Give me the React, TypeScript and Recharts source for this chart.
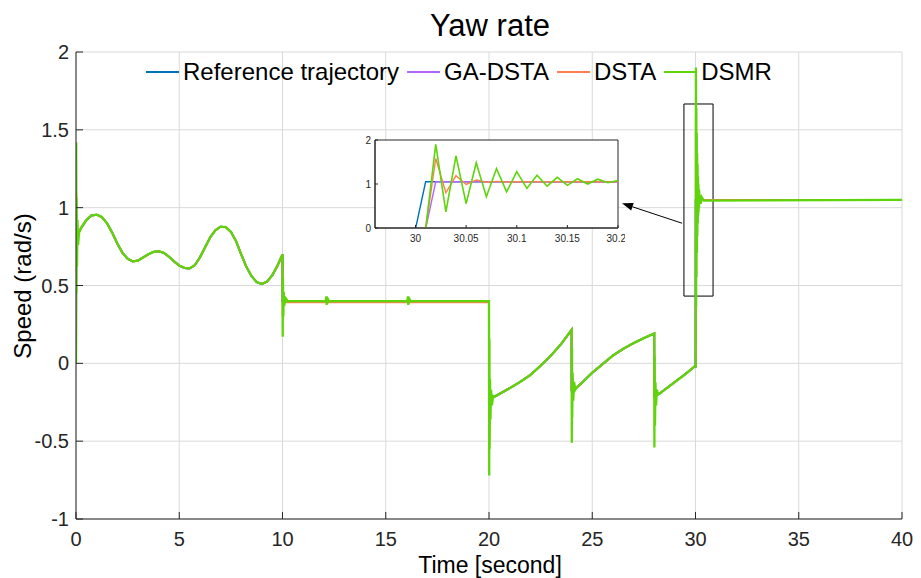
import {
  LineChart,
  Line,
  XAxis,
  YAxis,
  CartesianGrid,
  Legend,
  ReferenceArea,
  ReferenceLine,
} from "recharts";

const FONT = '"Liberation Sans", Arial, Helvetica, sans-serif';
const AXIS = "#262626";
const GRID = "#d9d9d9";

// ---- shared yaw-rate track (rad/s) ----
const waveT = [
  0, 0.25, 0.5, 0.75, 1, 1.25, 1.5, 1.75, 2, 2.25, 2.5, 2.75, 3, 3.25, 3.5,
  3.75, 4, 4.25, 4.5, 4.75, 5, 5.25, 5.5, 5.75, 6, 6.25, 6.5, 6.75, 7, 7.25,
  7.5, 7.75, 8, 8.25, 8.5, 8.75, 9, 9.25, 9.5, 9.75, 10,
];
const waveY = [
  0.81, 0.87, 0.92, 0.95, 0.955, 0.94, 0.9, 0.84, 0.77, 0.71, 0.672, 0.655,
  0.66, 0.68, 0.7, 0.716, 0.72, 0.71, 0.685, 0.655, 0.628, 0.613, 0.61, 0.63,
  0.68, 0.745, 0.81, 0.855, 0.878, 0.875, 0.845, 0.785, 0.7, 0.62, 0.56, 0.522,
  0.51, 0.525, 0.565, 0.625, 0.7,
];
const holdT = [10, 20];
const holdY = [0.4, 0.4];
const ramp1T = [20, 20.25, 20.5, 21, 21.5, 22, 22.5, 23, 23.5, 24];
const ramp1Y = [-0.225, -0.215, -0.197, -0.16, -0.12, -0.075, -0.015, 0.05, 0.125, 0.215];
const ramp2T = [24, 24.25, 24.5, 25, 25.5, 26, 26.5, 27, 27.5, 28];
const ramp2Y = [-0.17, -0.155, -0.125, -0.06, -0.005, 0.05, 0.093, 0.13, 0.162, 0.192];
const ramp3T = [28, 28.25, 28.5, 29, 29.5, 30];
const ramp3Y = [-0.21, -0.195, -0.17, -0.12, -0.07, -0.02];
const cruiseT = [30, 40];
const cruiseY = [1.05, 1.05];

// ---- step at t = 30 s, sampled every 10 ms ----
const zoomT = [
  29.96, 29.97, 29.98, 29.99, 30, 30.01, 30.02, 30.03, 30.04, 30.05, 30.06,
  30.07, 30.08, 30.09, 30.1, 30.11, 30.12, 30.13, 30.14, 30.15, 30.16, 30.17,
  30.18, 30.19, 30.2,
];
const zoomRef = [
  -0.02, -0.02, -0.02, -0.02, -0.02, 1.05, 1.05, 1.05, 1.05, 1.05, 1.05, 1.05,
  1.05, 1.05, 1.05, 1.05, 1.05, 1.05, 1.05, 1.05, 1.05, 1.05, 1.05, 1.05, 1.05,
];
const zoomGa = [
  -0.02, -0.02, -0.02, -0.02, -0.02, -0.02, 1.05, 1.05, 1.05, 1.05, 1.05, 1.05,
  1.05, 1.05, 1.05, 1.05, 1.05, 1.05, 1.05, 1.05, 1.05, 1.05, 1.05, 1.05, 1.05,
];
const zoomDsta = [
  -0.02, -0.02, -0.02, -0.02, -0.02, -0.02, 1.58, 0.8, 1.19, 0.99, 1.09, 1.04,
  1.06, 1.045, 1.05, 1.05, 1.05, 1.05, 1.05, 1.05, 1.05, 1.05, 1.05, 1.05, 1.05,
];
const zoomDsmr = [
  -0.02, -0.02, -0.02, -0.02, -0.02, -0.02, 1.9, 0.365, 1.64, 0.555, 1.48, 0.71,
  1.35, 0.82, 1.28, 0.9, 1.2, 0.95, 1.15, 0.97, 1.12, 1.0, 1.11, 1.03, 1.08,
];

// ---- controller transients ----
const dsmrK0T = [0, 0.01, 0.02, 0.03, 0.05, 0.07, 0.1, 0.15];
const dsmrK0Y = [0, 1.42, 0.45, 1.06, 0.62, 0.92, 0.76, 0.84];
const dsmrK10T = [10, 10.01, 10.02, 10.04, 10.06, 10.09, 10.12, 10.16, 10.2, 10.25];
const dsmrK10Y = [0.7, 0.17, 0.55, 0.3, 0.46, 0.37, 0.43, 0.39, 0.41, 0.4];
const dsmrK12T = [12.1, 12.12, 12.14, 12.16, 12.18, 12.21, 12.25];
const dsmrK12Y = [0.4, 0.43, 0.375, 0.425, 0.385, 0.41, 0.4];
const dsmrK16T = [16.05, 16.07, 16.09, 16.11, 16.13, 16.16, 16.2];
const dsmrK16Y = [0.4, 0.43, 0.375, 0.425, 0.385, 0.41, 0.4];
const dsmrK20T = [20, 20.01, 20.02, 20.03, 20.05, 20.07, 20.1, 20.14, 20.2];
const dsmrK20Y = [0.4, -0.72, 0.16, -0.55, -0.1, -0.36, -0.17, -0.27, -0.21];
const dsmrK24T = [24, 24.01, 24.02, 24.03, 24.05, 24.08, 24.12, 24.18];
const dsmrK24Y = [0.215, -0.51, 0.1, -0.35, -0.06, -0.24, -0.12, -0.17];
const dsmrK28T = [28, 28.01, 28.02, 28.04, 28.06, 28.09, 28.13, 28.19];
const dsmrK28Y = [0.192, -0.54, 0.05, -0.4, -0.12, -0.27, -0.17, -0.2];
const dsmrSettleT = [30.25, 30.3, 30.4];
const dsmrSettleY = [1.025, 1.068, 1.045];

const dstaK0T = [0, 0.01, 0.03, 0.06];
const dstaK0Y = [0, 1.1, 0.7, 0.83];
const dstaHoldT = [10, 10.01, 10.03, 10.06, 10.1, 20, 20.01, 20.03, 20.06, 20.1];
const dstaHoldY = [0.7, 0.3, 0.45, 0.38, 0.393, 0.393, -0.45, -0.12, -0.25, -0.205];

const gaK0T = [0, 0.02, 0.05];
const gaK0Y = [0, 0.85, 0.82];

// arrow from the zoom box to the inset
const calloutFrom = { x: 29.35, y: 0.9 };
const calloutTo = { x: 26.44, y: 1.028 };
// zoom box around the step at 30 s
const boxT = [29.44, 30.85];
const boxY = [0.432, 1.666];

const xTicks = [0, 5, 10, 15, 20, 25, 30, 35, 40];
const yTicks = [-1, -0.5, 0, 0.5, 1, 1.5, 2];
const insetXDomain = [29.96, 30.2];
const insetYDomain = [0, 2];
const insetXTicks = [30, 30.05, 30.1, 30.15, 30.2];
const insetYTicks = [0, 1, 2];

type Pt = { t: number; v: number };
const zip = (ts: number[], vs: number[]): Pt[] => ts.map((t, i) => ({ t, v: vs[i] }));

// replace the base track inside each transient's time window
function patch(base: Pt[], ...kicks: Pt[][]): Pt[] {
  let out = base;
  for (const k of kicks) {
    const lo = k[0].t;
    const hi = k[k.length - 1].t;
    out = [...out.filter((p) => p.t < lo), ...k, ...out.filter((p) => p.t > hi)];
  }
  return out;
}

const baseTrack: Pt[] = [
  ...zip(waveT, waveY),
  ...zip(holdT, holdY),
  ...zip(ramp1T, ramp1Y),
  ...zip(ramp2T, ramp2Y),
  ...zip(ramp3T, ramp3Y),
  ...zip(cruiseT, cruiseY),
];

const SERIES = [
  {
    name: "Reference trajectory",
    color: "#0072bd",
    width: 2,
    main: patch(baseTrack, zip(zoomT, zoomRef)),
    inset: zip(zoomT, zoomRef),
  },
  {
    name: "GA-DSTA",
    color: "#b266ff",
    width: 2,
    main: patch(baseTrack, zip(gaK0T, gaK0Y), zip(zoomT, zoomGa)),
    inset: zip(zoomT, zoomGa),
  },
  {
    name: "DSTA",
    color: "#ff7f50",
    width: 2,
    main: patch(baseTrack, zip(dstaK0T, dstaK0Y), zip(dstaHoldT, dstaHoldY), zip(zoomT, zoomDsta)),
    inset: zip(zoomT, zoomDsta),
  },
  {
    name: "DSMR",
    color: "#5ed40a",
    width: 2.3,
    main: patch(
      baseTrack,
      zip(dsmrK0T, dsmrK0Y),
      zip(dsmrK10T, dsmrK10Y),
      zip(dsmrK12T, dsmrK12Y),
      zip(dsmrK16T, dsmrK16Y),
      zip(dsmrK20T, dsmrK20Y),
      zip(dsmrK24T, dsmrK24Y),
      zip(dsmrK28T, dsmrK28Y),
      zip(zoomT, zoomDsmr),
      zip(dsmrSettleT, dsmrSettleY)
    ),
    inset: zip(zoomT, zoomDsmr),
  },
];

function LegendRow() {
  return (
    <div
      style={{
        display: "flex",
        alignItems: "center",
        fontSize: 24,
        lineHeight: "28px",
        color: "#000",
        whiteSpace: "nowrap",
      }}
    >
      {SERIES.map((s) => (
        <div key={s.name} style={{ display: "flex", alignItems: "center", marginRight: 8 }}>
          <span style={{ width: 33, borderTop: `2px solid ${s.color}`, marginRight: 4 }} />
          <span>{s.name}</span>
        </div>
      ))}
    </div>
  );
}

function Arrow(props: any) {
  const { x1, y1, x2, y2 } = props;
  const ang = Math.atan2(y2 - y1, x2 - x1);
  const len = 11;
  const half = 4;
  const bx = x2 - len * Math.cos(ang);
  const by = y2 - len * Math.sin(ang);
  const px = -Math.sin(ang) * half;
  const py = Math.cos(ang) * half;
  return (
    <g>
      <line x1={x1} y1={y1} x2={bx} y2={by} stroke="#000" strokeWidth={1} />
      <polygon points={`${x2},${y2} ${bx + px},${by + py} ${bx - px},${by - py}`} fill="#000" />
    </g>
  );
}

const tickStyle = { fill: AXIS, fontSize: 20 };

function MainChart() {
  return (
    <LineChart
      width={921}
      height={578}
      margin={{ top: 52, right: 19, bottom: 0, left: 16 }}
    >
      <CartesianGrid stroke={GRID} strokeWidth={1} />
      <XAxis
        dataKey="t"
        type="number"
        domain={[0, 40]}
        ticks={xTicks}
        allowDataOverflow
        height={59}
        stroke={AXIS}
        tickSize={-7}
        tickMargin={20}
        tick={tickStyle}
      />
      <XAxis
        xAxisId="top"
        orientation="top"
        dataKey="t"
        type="number"
        domain={[0, 40]}
        ticks={xTicks}
        height={0}
        stroke={AXIS}
        tickSize={-7}
        tick={false}
      />
      <YAxis
        type="number"
        domain={[-1, 2]}
        ticks={yTicks}
        allowDataOverflow
        width={60}
        stroke={AXIS}
        tickSize={-7}
        tickMargin={14}
        tick={tickStyle}
      />
      <YAxis
        yAxisId="right"
        orientation="right"
        type="number"
        domain={[-1, 2]}
        ticks={yTicks}
        width={0}
        stroke={AXIS}
        tickSize={-7}
        tick={false}
      />
      {SERIES.map((s) => (
        <Line
          key={s.name}
          data={s.main}
          dataKey="v"
          name={s.name}
          type="linear"
          stroke={s.color}
          strokeWidth={s.width}
          dot={false}
          activeDot={false}
          isAnimationActive={false}
        />
      ))}
      <ReferenceArea
        x1={boxT[0]}
        x2={boxT[1]}
        y1={boxY[0]}
        y2={boxY[1]}
        fill="none"
        stroke="#000"
        strokeWidth={1}
      />
      <ReferenceLine segment={[calloutFrom, calloutTo]} shape={Arrow} />
      <Legend
        layout="horizontal"
        verticalAlign="middle"
        align="center"
        content={() => <LegendRow />}
        wrapperStyle={{ top: 58, left: 146, width: "auto" }}
      />
    </LineChart>
  );
}

function InsetChart() {
  const small = { fill: AXIS, fontSize: 10 };
  return (
    <LineChart width={280} height={118} margin={{ top: 10, right: 7, bottom: 0, left: 10 }}>
      <CartesianGrid fill="#fff" horizontal={false} vertical={false} />
      <XAxis
        dataKey="t"
        type="number"
        domain={insetXDomain}
        ticks={insetXTicks}
        allowDataOverflow
        height={20}
        stroke={AXIS}
        tickSize={-3}
        tickMargin={10}
        tick={small}
      />
      <XAxis
        xAxisId="top"
        orientation="top"
        dataKey="t"
        type="number"
        domain={insetXDomain}
        ticks={insetXTicks}
        height={0}
        stroke={AXIS}
        tickSize={-3}
        tick={false}
      />
      <YAxis
        type="number"
        domain={insetYDomain}
        ticks={insetYTicks}
        allowDataOverflow
        width={20}
        stroke={AXIS}
        tickSize={-3}
        tickMargin={7}
        tick={small}
      />
      <YAxis
        yAxisId="right"
        orientation="right"
        type="number"
        domain={insetYDomain}
        ticks={insetYTicks}
        width={0}
        stroke={AXIS}
        tickSize={-3}
        tick={false}
      />
      {SERIES.map((s) => (
        <Line
          key={s.name}
          data={s.inset}
          dataKey="v"
          name={s.name}
          type="linear"
          stroke={s.color}
          strokeWidth={s.name === "DSMR" ? 1.6 : 1.4}
          dot={false}
          activeDot={false}
          isAnimationActive={false}
        />
      ))}
      {/* full frame round the inset plot */}
      <ReferenceArea
        x1={insetXDomain[0]}
        x2={insetXDomain[1]}
        y1={insetYDomain[0]}
        y2={insetYDomain[1]}
        fill="none"
        stroke={AXIS}
        strokeWidth={1}
      />
    </LineChart>
  );
}

export default function App() {
  return (
    <div
      style={{
        position: "absolute",
        left: 0,
        top: 0,
        width: 921,
        height: 578,
        background: "#fff",
        fontFamily: FONT,
        overflow: "hidden",
      }}
    >
      <MainChart />
      <div style={{ position: "absolute", left: 345, top: 130 }}>
        <InsetChart />
      </div>
      <svg
        width={921}
        height={578}
        style={{ position: "absolute", left: 0, top: 0, pointerEvents: "none" }}
        fontFamily={FONT}
      >
        <text x={490} y={36} textAnchor="middle" fontSize={31} fill="#000">
          Yaw rate
        </text>
        <text x={490} y={573} textAnchor="middle" fontSize={23} fill="#000">
          Time [second]
        </text>
        <text
          x={31}
          y={286}
          textAnchor="middle"
          fontSize={24}
          fill="#000"
          transform="rotate(-90 31 286)"
        >
          Speed (rad/s)
        </text>
      </svg>
    </div>
  );
}
